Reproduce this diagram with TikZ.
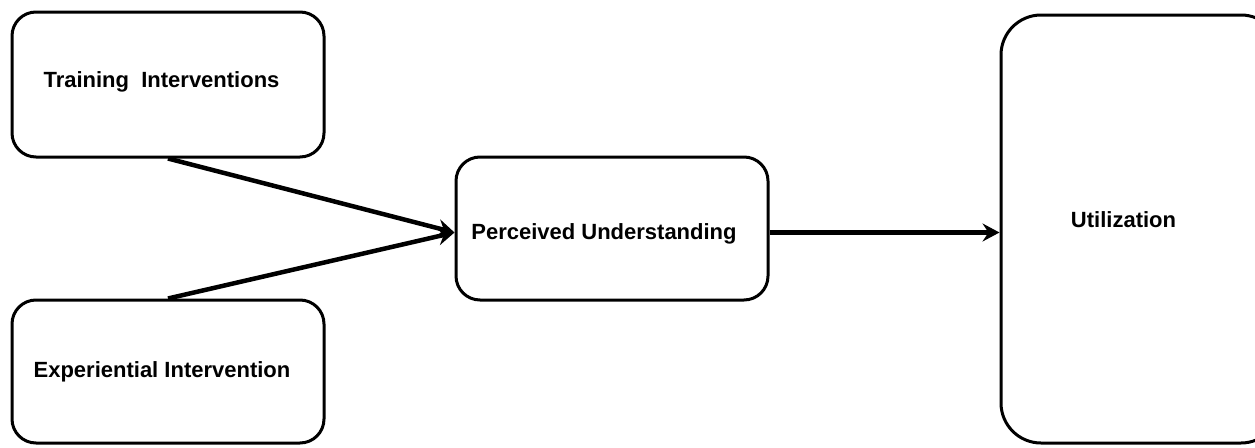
\documentclass[tikz,border=0pt]{standalone}
\usepackage{fontspec}
\setmainfont{Liberation Sans}
\usetikzlibrary{arrows.meta}
\begin{document}
\begin{tikzpicture}[x=1pt,y=-1pt,
  box/.style={draw=black,line width=3pt,rounded corners=24pt,fill=white,inner sep=0pt},
  lbl/.style={inner sep=0pt,anchor=base,font=\fontsize{22}{26}\selectfont\bfseries},
  conn/.style={line width=4.5pt,-{Stealth[length=17pt,width=18pt,inset=6pt]}}]
\clip (0,0) rectangle (1255,447);
\fill[white] (0,0) rectangle (1255,447);
\node[box,minimum width=312pt,minimum height=145pt] (train) at (168,84.5) {};
\node[box,minimum width=312pt,minimum height=143pt] (exp) at (168,371.5) {};
\node[box,minimum width=312pt,minimum height=143pt] (perc) at (612,228.5) {};
\node[box,rounded corners=40pt,minimum width=280pt,minimum height=428pt] (util) at (1141,229) {};
\node[lbl] (ttrain) at (161.5,87) {Training\ \ Interventions};
\node[lbl] (texp) at (162,377) {Experiential Intervention};
\node[lbl] (tperc) at (604,239) {Perceived Understanding};
\node[lbl] (tutil) at (1123.5,227) {Utilization};
\draw[conn] (train.south) -- ([yshift=-4pt]perc.west);
\draw[conn] (exp.north) -- ([yshift=-4pt]perc.west);
\draw[conn] ([yshift=-4pt]perc.east) -- ([yshift=-4pt]perc.east -| util.west);
\end{tikzpicture}
\end{document}
